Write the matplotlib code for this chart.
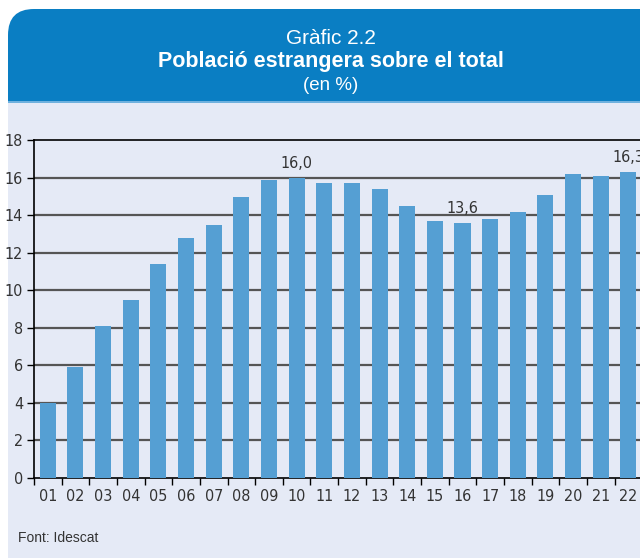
import matplotlib
matplotlib.use("Agg")
import matplotlib.pyplot as plt
from matplotlib.patches import FancyBboxPatch, Rectangle

years = ["01", "02", "03", "04", "05", "06", "07", "08", "09", "10", "11",
         "12", "13", "14", "15", "16", "17", "18", "19", "20", "21", "22"]
values = [4.0, 5.9, 8.1, 9.5, 11.4, 12.8, 13.5, 15.0, 15.9, 16.0, 15.7,
          15.7, 15.4, 14.5, 13.7, 13.6, 13.8, 14.2, 15.1, 16.2, 16.1, 16.3]
labelled = ["10", "16", "22"]
yticks = [0, 2, 4, 6, 8, 10, 12, 14, 16, 18]

blue = "#0a7ec3"
lav = "#e5eaf6"
bar_col = "#559fd3"
narrow = dict(family="DejaVu Sans", stretch="condensed", fontsize=11.5, color="#333333")

W, H = 640, 558
fig = plt.figure(figsize=(W / 100, H / 100), dpi=100)
fig.patch.set_facecolor("white")

# background panel and header, in pixel coordinates
bg = fig.add_axes([0, 0, 1, 1])
bg.set_xlim(0, W)
bg.set_ylim(H, 0)
bg.axis("off")
bg.add_patch(Rectangle((8, 60), W, H, facecolor=lav, edgecolor="none"))
bg.add_patch(FancyBboxPatch((8, 9), W + 40, 80, boxstyle="round,pad=0,rounding_size=26",
                            facecolor=blue, edgecolor="none"))
bg.add_patch(Rectangle((8, 50), W, 51, facecolor=blue, edgecolor="none"))
bg.add_patch(Rectangle((8, 101), W, 2, facecolor="#6fb1de", edgecolor="none"))

bg.text(331, 38, "Gràfic 2.2", ha="center", va="center", color="white",
        fontsize=15, family="Liberation Sans")
bg.text(331, 61, "Població estrangera sobre el total", ha="center", va="center",
        color="white", fontsize=15.5, fontweight="bold", family="Liberation Sans")
bg.text(331, 86, "(en %)", ha="center", va="center", color="white",
        fontsize=13.5, family="Liberation Sans")
bg.text(18, 538, "Font: Idescat", ha="left", va="center", color="#333333",
        fontsize=10, family="Liberation Sans")

# bar chart
ax = fig.add_axes([34 / W, 80 / H, (W - 34) / W, 337.7 / H])
ax.set_facecolor("none")
x = list(range(len(years)))
ax.bar(x, values, width=0.58, color=bar_col, zorder=3)
for i, (yr, v) in enumerate(zip(years, values)):
    if yr in labelled:
        ax.annotate(f"{v:.1f}".replace(".", ","), (i, v), xytext=(0, 5),
                    textcoords="offset points", ha="center", va="bottom", **narrow)

ax.set_xlim(-0.48, 21.42)
ax.set_ylim(0, 18)
ax.set_yticks(yticks)
ax.set_yticklabels([str(t) for t in yticks], **narrow)
for t in yticks[1:-1]:
    ax.axhline(t, color="#555555", lw=1.6, zorder=1)
ax.axhline(18, color="black", lw=1.2, zorder=1, clip_on=False)

ax.set_xticks([i - 0.5 for i in x])
ax.set_xticklabels([])
ax.set_xticks(x, minor=True)
ax.set_xticklabels(years, minor=True, **narrow)
ax.tick_params(axis="x", which="major", length=5, width=1, color="black", direction="out")
ax.tick_params(axis="x", which="minor", length=0, pad=8)
ax.tick_params(axis="y", length=5, width=1, color="black", direction="out", pad=3)

for s in ["top", "right"]:
    ax.spines[s].set_visible(False)
ax.spines["left"].set_linewidth(1.2)
ax.spines["bottom"].set_linewidth(1.2)

fig.savefig("out.png", dpi=100)
